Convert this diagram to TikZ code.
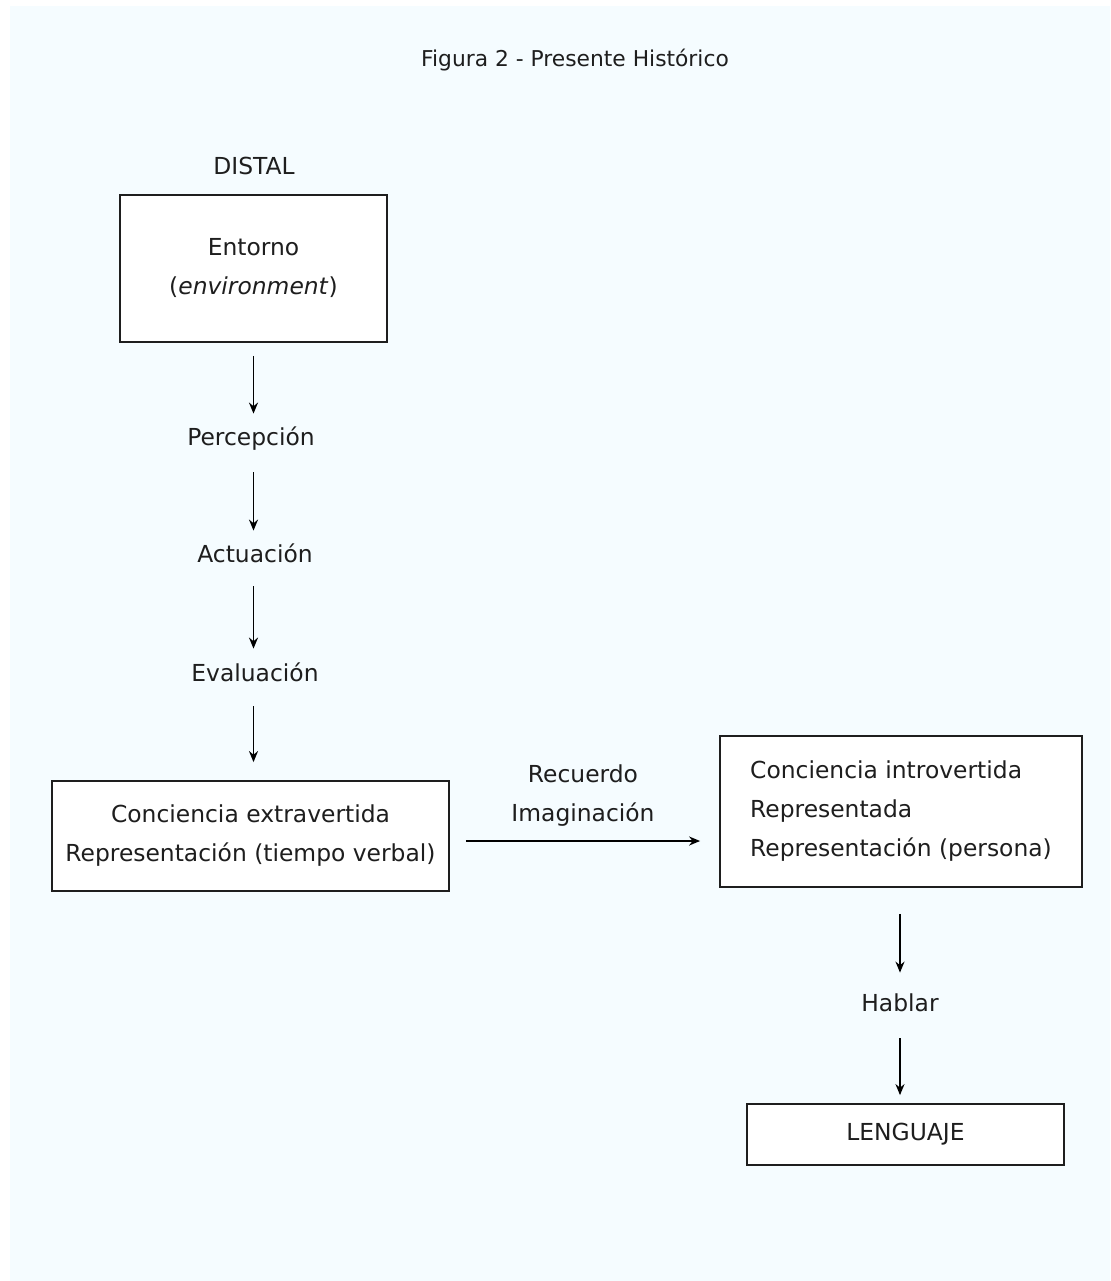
\documentclass[tikz,border=0pt]{standalone}
\usepackage{fontspec}
\setmainfont{DejaVu Sans}
\usetikzlibrary{arrows.meta}
\definecolor{paleblue}{RGB}{245,252,255}
\definecolor{inkgray}{RGB}{30,30,30}
\begin{document}
\begin{tikzpicture}[%
    x=0.5pt, y=-0.5pt,
    >={Stealth[length=5.5pt,width=4.5pt]},
    line width=0.9pt,
    font=\fontsize{11.7}{19.5}\selectfont,
    text=inkgray,
    block/.style={draw=inkgray, fill=white, align=center, inner sep=0pt},
    word/.style={inner sep=0pt, text height=0.8em, text depth=0.25em}]
    \useasboundingbox (0,0) rectangle (1110,1281);
    \fill[paleblue] (10,6) rectangle (1110,1281);

    \node[font=\fontsize{10.9}{12}\selectfont] (title) at (575,60) {Figura 2 - Presente Histórico};

    % left column
    \node[word] (distal) at (254,169) {DISTAL};
    \node[block, minimum width=133.5pt, minimum height=73.5pt] (entorno) at (253.5,268.5) {Entorno\\(\textit{environment})};
    \node[word] (percepcion) at (251,440) {Percepción};
    \node[word] (actuacion) at (255,557) {Actuación};
    \node[word] (evaluacion) at (255,676) {Evaluación};
    \node[block, minimum width=198.5pt, minimum height=55pt] (extra) at (250.5,836) {Conciencia extravertida\\Representación (tiempo verbal)};

    % right column
    \node[block, align=left, minimum width=181pt, minimum height=75.5pt] (intro) at (901,811.5) {Conciencia introvertida\\Representada\\Representación (persona)};
    \node[word] (hablar) at (900,1006) {Hablar};
    \node[block, minimum width=158.5pt, minimum height=30.5pt] (lenguaje) at (905.5,1134.5) {LENGUAJE};

    \node[align=center, inner sep=0pt] (recuerdo) at (583,796) {Recuerdo\\Imaginación};

    \path[->]
              (entorno.south) edge [shorten <=6.5pt, shorten >=7.5pt] (entorno.south |- percepcion.north)
              (entorno.south |- percepcion.south) edge [shorten <=10.5pt, shorten >=7.5pt] (entorno.south |- actuacion.north)
              (entorno.south |- actuacion.south) edge [shorten <=9pt, shorten >=8pt] (entorno.south |- evaluacion.north)
              (entorno.south |- evaluacion.south) edge [shorten <=9.5pt, shorten >=9pt] (entorno.south |- extra.north)
              ([yshift=-2.5pt]extra.east) edge [shorten <=8pt, shorten >=9.5pt] ([yshift=-2.5pt]extra.east -| intro.west)
              ([xshift=-0.5pt]intro.south) edge [shorten <=13pt, shorten >=11pt] ([xshift=-0.5pt]intro.south |- hablar.north)
              ([xshift=-0.5pt]intro.south |- hablar.south) edge [shorten <=10.5pt, shorten >=4pt] ([xshift=-0.5pt]intro.south |- lenguaje.north);
\end{tikzpicture}
\end{document}
